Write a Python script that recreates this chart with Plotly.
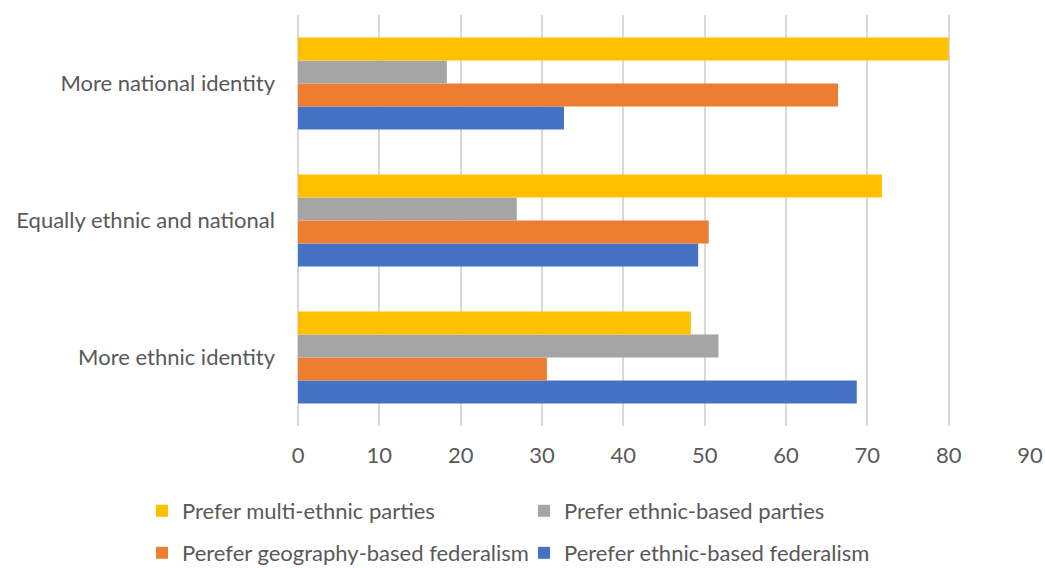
import plotly.graph_objects as go

categories = ["More ethnic identity", "Equally ethnic and national", "More national identity"]

series_names = [
    "Perefer ethnic-based federalism",
    "Perefer geography-based federalism",
    "Prefer ethnic-based parties",
    "Prefer multi-ethnic parties",
]
ethnic_federalism = [68.7, 49.2, 32.7]
geography_federalism = [30.6, 50.5, 66.4]
ethnic_parties = [51.7, 26.9, 18.3]
multi_ethnic_parties = [48.3, 71.8, 80.0]

series_values = [ethnic_federalism, geography_federalism, ethnic_parties, multi_ethnic_parties]
series_colors = ["#4472C4", "#ED7D31", "#A5A5A5", "#FFC000"]
# federalism series go in the lower legend row, party series in the upper one
series_legends = ["legend2", "legend2", "legend", "legend"]

x_ticks = list(range(0, 100, 10))

fig = go.Figure()
for name, vals, color, leg in zip(series_names, series_values, series_colors, series_legends):
    fig.add_trace(go.Bar(
        y=categories, x=vals, name=name, orientation="h",
        marker=dict(color=color, line=dict(width=0)),
        legend=leg,
    ))

text_color = "#595959"
grid_color = "#D9D9D9"
font_family = "Lato, 'Liberation Sans', sans-serif"

W, H = 1045, 568
L, R, T, B = 298, 15, 15, 142
plot_w, plot_h = W - L - R, H - T - B


def legend_pos(px, py):
    """Pixel position on the page -> paper coordinates."""
    return (px - L) / plot_w, (H - B - py) / plot_h


legend_common = dict(
    orientation="h", traceorder="reversed",
    xref="paper", yref="paper", xanchor="left", yanchor="middle",
    entrywidth=337, font=dict(size=22, color=text_color),
    itemwidth=30, bgcolor="rgba(0,0,0,0)",
)
lx1, ly1 = legend_pos(142, 511)
lx2, ly2 = legend_pos(142, 553)

fig.update_layout(
    width=W, height=H,
    margin=dict(l=L, r=R, t=T, b=B, autoexpand=False),
    paper_bgcolor="white", plot_bgcolor="white",
    barmode="group", bargap=0.33, bargroupgap=0,
    font=dict(family=font_family, color=text_color, size=22),
    xaxis=dict(
        range=[0, 90], tickvals=x_ticks, showgrid=True,
        gridcolor=grid_color, gridwidth=2,
        zeroline=True, zerolinecolor=grid_color, zerolinewidth=2,
        showline=False, ticks="", tickfont=dict(size=22, color=text_color),
        ticklabelstandoff=14, tickangle=0,
    ),
    yaxis=dict(
        categoryorder="array", categoryarray=categories,
        showgrid=False, showline=False, ticks="", ticklabelstandoff=22,
        tickfont=dict(size=22, color=text_color),
    ),
    legend=dict(legend_common, x=lx1, y=ly1),
    legend2=dict(legend_common, x=lx2, y=ly2),
)

fig.write_html("out.html")
